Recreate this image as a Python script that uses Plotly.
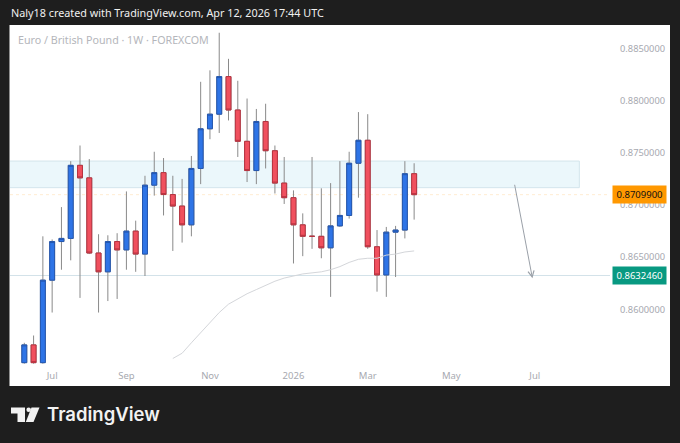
import pandas as pd
import plotly.graph_objects as go

# weekly EUR/GBP bars (FOREXCOM, 1W)
dates = pd.date_range("2025-06-16", periods=43, freq="W-MON")

opens = [0.8549, 0.8566, 0.8549, 0.8628, 0.8665, 0.8668, 0.8738, 0.8726, 0.8654, 0.8636,
         0.8665, 0.8657, 0.8675, 0.8653, 0.8719, 0.8731, 0.8710, 0.8699, 0.8681, 0.8735,
         0.8773, 0.8787, 0.8823, 0.8791, 0.8761, 0.8733, 0.8780, 0.8752, 0.8721, 0.8707,
         0.8681, 0.8670, 0.8670, 0.8659, 0.8680, 0.8690, 0.8740, 0.8762, 0.8660, 0.8633,
         0.8674, 0.8676, 0.8730]
highs = [0.8568, 0.8575, 0.8670, 0.8667, 0.8698, 0.8742, 0.8757, 0.8744, 0.8672, 0.8671,
         0.8673, 0.8713, 0.8685, 0.8728, 0.8751, 0.8745, 0.8728, 0.8725, 0.8747, 0.8818,
         0.8829, 0.8865, 0.8840, 0.8819, 0.8802, 0.8792, 0.8797, 0.8757, 0.8746, 0.8714,
         0.8692, 0.8746, 0.8716, 0.8721, 0.8742, 0.8751, 0.8789, 0.8787, 0.8676, 0.8679,
         0.8680, 0.8742, 0.8740]
lows = [0.8548, 0.8548, 0.8548, 0.8597, 0.8638, 0.8647, 0.8611, 0.8653, 0.8597, 0.8608,
        0.8610, 0.8638, 0.8636, 0.8632, 0.8709, 0.8690, 0.8656, 0.8664, 0.8670, 0.8720,
        0.8763, 0.8769, 0.8781, 0.8746, 0.8722, 0.8720, 0.8735, 0.8711, 0.8701, 0.8644,
        0.8651, 0.8658, 0.8649, 0.8612, 0.8679, 0.8687, 0.8707, 0.8658, 0.8617, 0.8612,
        0.8631, 0.8668, 0.8686]
closes = [0.8566, 0.8549, 0.8628, 0.8665, 0.8668, 0.8738, 0.8726, 0.8654, 0.8636, 0.8665,
          0.8657, 0.8675, 0.8653, 0.8719, 0.8731, 0.8710, 0.8699, 0.8681, 0.8735, 0.8773,
          0.8787, 0.8823, 0.8791, 0.8761, 0.8733, 0.8780, 0.8752, 0.8721, 0.8707, 0.8681,
          0.8670, 0.8670, 0.8659, 0.8680, 0.8690, 0.8740, 0.8762, 0.8660, 0.8633, 0.8674,
          0.8676, 0.8730, 0.87099]

# slow moving average, visible from bar 16 onwards
ma_start = 16
ma_values = [0.8553, 0.8558, 0.8568, 0.8578, 0.8587, 0.8597, 0.8605, 0.8610, 0.8615, 0.8619,
             0.8623, 0.8627, 0.8630, 0.8632, 0.8634, 0.8635, 0.8636, 0.8638, 0.8641, 0.8645,
             0.8648, 0.8649, 0.8649, 0.8652, 0.8653, 0.8655, 0.8656]

tick_dates = ["2025-07-07", "2025-09-01", "2025-11-03", "2026-01-05",
              "2026-03-02", "2026-05-04", "2026-07-06"]
tick_text = ["Jul", "Sep", "Nov", "2026", "Mar", "May", "Jul"]
price_ticks = [0.860, 0.865, 0.870, 0.875, 0.880, 0.885]

zone_low, zone_high = 0.87166, 0.87421
zone_end = "2026-08-08 14:00"
support = 0.863246
last_price = 0.87099
arrow_from = ("2026-06-20 14:00", 0.87208)
arrow_to = ("2026-07-04 05:00", 0.86298)

W, H = 680, 443
ML, MR, MT, MB = 10, 70, 26, 77


def px(x):
    return (x - ML) / (W - ML - MR)


def py(y):
    return (H - MB - y) / (H - MT - MB)


def poly(points):
    return "M " + " L ".join(f"{px(a)},{py(b)}" for a, b in points) + " Z"


BLUE, BLUE_EDGE = "#2e74e6", "#2457b0"
RED, RED_EDGE = "#f0505e", "#b8323f"
AXIS_GRAY = "#a7a9b0"

fig = go.Figure()

# wicks (gray) first, bodies on top
fig.add_trace(go.Candlestick(
    x=dates, open=opens, high=highs, low=lows, close=closes,
    increasing=dict(line=dict(color="#8a8a8a", width=1), fillcolor="rgba(0,0,0,0)"),
    decreasing=dict(line=dict(color="#8a8a8a", width=1), fillcolor="rgba(0,0,0,0)"),
    showlegend=False, hoverinfo="skip"))
fig.add_trace(go.Candlestick(
    x=dates, open=opens, close=closes,
    high=[max(o, c) for o, c in zip(opens, closes)],
    low=[min(o, c) for o, c in zip(opens, closes)],
    increasing=dict(line=dict(color=BLUE_EDGE, width=1), fillcolor=BLUE),
    decreasing=dict(line=dict(color=RED_EDGE, width=1), fillcolor=RED),
    showlegend=False))

fig.add_trace(go.Scatter(x=dates[ma_start:], y=ma_values, mode="lines",
                         line=dict(color="#d4d6da", width=1), showlegend=False, hoverinfo="skip"))

shapes = [
    # white chart panel
    dict(type="rect", xref="paper", yref="paper", x0=px(9.5), x1=px(670), y0=py(386), y1=py(25),
         fillcolor="white", line=dict(width=0), layer="below"),
    # resistance zone
    dict(type="rect", xref="x", yref="y", x0=dates[0] - pd.Timedelta(days=12), x1=zone_end,
         y0=zone_low, y1=zone_high, fillcolor="rgba(222,241,249,0.6)",
         line=dict(color="#d3e5ec", width=1), layer="below"),
    dict(type="line", xref="paper", yref="y", x0=0, x1=1, y0=support, y1=support,
         line=dict(color="#d3e2e9", width=1), layer="below"),
    dict(type="line", xref="paper", yref="y", x0=0, x1=1, y0=last_price, y1=last_price,
         line=dict(color="rgba(255,152,0,0.18)", width=1, dash="dot"), layer="below"),
    # TradingView logo icon
    dict(type="path", xref="paper", yref="paper", line=dict(width=0), fillcolor="#f2f2f2",
         path=poly([(11, 407.5), (25, 407.5), (25, 422), (17.5, 422), (17.5, 413.5), (11, 413.5)])),
    dict(type="circle", xref="paper", yref="paper", line=dict(width=0), fillcolor="#f2f2f2",
         x0=px(26.4), x1=px(31), y0=py(412), y1=py(407.4)),
    dict(type="path", xref="paper", yref="paper", line=dict(width=0), fillcolor="#f2f2f2",
         path=poly([(31.5, 407.5), (39.5, 407.5), (33.5, 422), (25.8, 422)])),
]

annotations = [
    dict(xref="paper", yref="paper", x=px(9), y=py(13), xanchor="left", yanchor="middle",
         text="Naly18 created with TradingView.com, Apr 12, 2026 17:44 UTC", showarrow=False,
         font=dict(family="Noto Sans", size=10.8, color="#f0f0f0")),
    dict(xref="paper", yref="paper", x=px(16), y=py(40), xanchor="left", yanchor="middle",
         text="Euro / British Pound · 1W · FOREXCOM", showarrow=False,
         font=dict(family="Noto Sans", size=10.7, color="#b4b6bb")),
    dict(xref="paper", yref="paper", x=px(45), y=py(414), xanchor="left", yanchor="middle",
         text="TradingView", showarrow=False,
         font=dict(family="Inter", size=18.5, color="#f2f2f2", weight=600)),
    dict(xref="paper", yref="y", x=px(612), y=last_price, xanchor="left", yanchor="middle",
         text="0.8709900", showarrow=False, bgcolor="#ff9800", borderpad=2, width=49,
         font=dict(family="Noto Sans", size=9.5, color="#111111")),
    dict(xref="paper", yref="y", x=px(612), y=support, xanchor="left", yanchor="middle",
         text="0.8632460", showarrow=False, bgcolor="#089981", borderpad=2, width=49,
         font=dict(family="Noto Sans", size=9.5, color="white")),
    dict(xref="x", yref="y", axref="x", ayref="y", x=arrow_to[0], y=arrow_to[1],
         ax=arrow_from[0], ay=arrow_from[1], showarrow=True, arrowhead=5, arrowsize=1.2,
         arrowwidth=1, arrowcolor="#9aa0a8", text=""),
]

fig.update_layout(
    width=W, height=H,
    margin=dict(l=ML, r=MR, t=MT, b=MB),
    paper_bgcolor="#1e1e1e", plot_bgcolor="white",
    shapes=shapes, annotations=annotations,
    boxgap=0.24,
    xaxis=dict(type="date", rangeslider=dict(visible=False), showgrid=False, zeroline=False,
               range=[dates[0] - pd.Timedelta(hours=259), dates[0] + pd.Timedelta(hours=10601)],
               tickvals=tick_dates, ticktext=tick_text, ticks="", ticklabelstandoff=2,
               tickfont=dict(family="Noto Sans", size=9.5, color=AXIS_GRAY), showline=False),
    yaxis=dict(side="right", range=[0.854579, 0.887146], showgrid=False, zeroline=False,
               tickvals=price_ticks, tickformat=".7f", ticks="", ticklabelstandoff=9,
               tickfont=dict(family="Noto Sans", size=9.3, color=AXIS_GRAY), showline=False),
    hovermode=False,
)

# the page body keeps its default 8px margin otherwise
fig.write_html("out.html", config={"displayModeBar": False},
               post_script="document.body.style.margin='0';"
                           "document.body.style.background='#1e1e1e';")
